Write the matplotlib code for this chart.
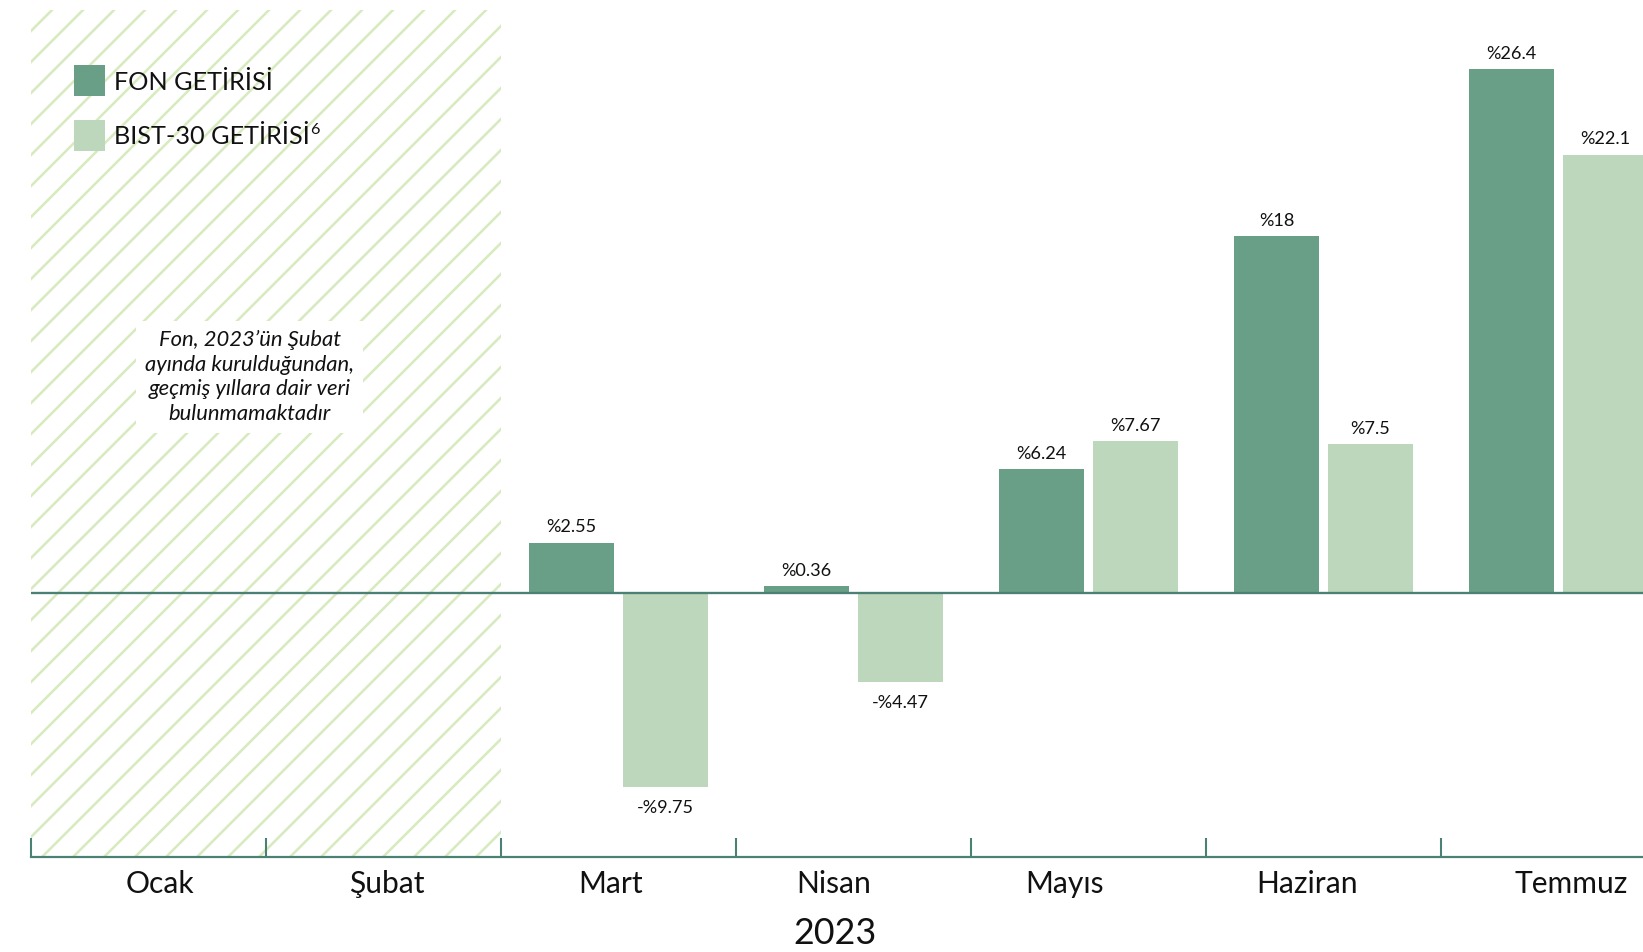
import matplotlib
matplotlib.use("Agg")
import matplotlib.pyplot as plt
import matplotlib.transforms as mtransforms
from matplotlib.patches import Rectangle

# ---------------- data ----------------
months = ["Ocak", "Şubat", "Mart", "Nisan", "Mayıs", "Haziran", "Temmuz"]
data_months = ["Mart", "Nisan", "Mayıs", "Haziran", "Temmuz"]
fon_getirisi = [2.55, 0.36, 6.24, 18, 26.4]
bist30_getirisi = [-9.75, -4.47, 7.67, 7.5, 22.1]
year_label = "2023"
legend_labels = ["FON GETİRİSİ", "BIST-30 GETİRİSİ"]
legend_sup = ["", "6"]
note_text = "Fon, 2023’ün Şubat\nayında kurulduğundan,\ngeçmiş yıllara dair veri\nbulunmamaktadır"
no_data_months = ["Ocak", "Şubat"]

# ---------------- style / layout ----------------
DPI = 186
W, H = 1643, 952
dark = "#6a9f87"
light = "#bdd7bc"
hatch_col = "#d8eac0"
axis_col = "#4b8175"
txt_col = "#111111"
bar_w = 0.362
offset = 0.2
# horizontal shift of each month label (pixels) as seen in the reference
label_dx_px = [11.5, 3.5, -7.5, -19.5, -24.5, -16.5, 12.5]

plt.rcParams["font.family"] = ["Lato", "DejaVu Sans"]
plt.rcParams["hatch.linewidth"] = 1.0

fig = plt.figure(figsize=(W / DPI, H / DPI), dpi=DPI)
ax_left = 31 / W
ax_bottom = 1 - 856.7 / H
ax_top = 1 - 10 / H
ax = fig.add_axes([ax_left, ax_bottom, 1 - ax_left, ax_top - ax_bottom])

cat_px = 235.0
px_per_unit = 19.85
zero_px = 593.3
xmax = -0.5 + (W - 31) / cat_px
ymin = (zero_px - 856.7) / px_per_unit
ymax = (zero_px - 10) / px_per_unit
ax.set_xlim(-0.5, xmax)
ax.set_ylim(ymin, ymax)

idx = {m: i for i, m in enumerate(months)}

# hatched "no data" region
nd = [idx[m] for m in no_data_months]
ax.add_patch(Rectangle((min(nd) - 0.5, ymin), len(nd), ymax - ymin,
                       hatch="//", fill=False, edgecolor=hatch_col, lw=0, zorder=0))

xs = [idx[m] for m in data_months]
b1 = ax.bar([x - offset for x in xs], fon_getirisi, width=bar_w, color=dark, zorder=2)
b2 = ax.bar([x + offset for x in xs], bist30_getirisi, width=bar_w, color=light, zorder=2)

def fmt(v):
    s = f"{abs(v):g}"
    return ("-%" if v < 0 else "%") + s

for bars, vals in ((b1, fon_getirisi), (b2, bist30_getirisi)):
    for rect, v in zip(bars, vals):
        cx = rect.get_x() + rect.get_width() / 2
        dy = 10.5 if v >= 0 else -26.0
        ax.annotate(fmt(v), (cx, v), xytext=(0, dy / DPI * 72), textcoords="offset points",
                    ha="center", va="baseline", fontsize=7.0, color=txt_col, zorder=4)

ax.axhline(0, color=axis_col, lw=0.9, zorder=3)

# note box
ax.text(0.43, 10.9, note_text, ha="center", va="center", fontsize=8.5, style="italic",
        color=txt_col, linespacing=1.3, zorder=5,
        bbox=dict(boxstyle="square,pad=0.4", fc="white", ec="none"))

# axes styling
for s in ("top", "right", "left"):
    ax.spines[s].set_visible(False)
ax.spines["bottom"].set_color(axis_col)
ax.spines["bottom"].set_linewidth(0.85)
ax.set_yticks([])
ax.set_xticks([i - 0.5 for i in range(len(months))])
ax.set_xticklabels([])
ax.tick_params(axis="x", direction="in", length=19 / DPI * 72, width=0.8, color=axis_col)

blend = mtransforms.blended_transform_factory(ax.transData, ax.transAxes)
for i, m in enumerate(months):
    tr = blend + mtransforms.ScaledTranslation(label_dx_px[i] / DPI, -36.3 / DPI, fig.dpi_scale_trans)
    ax.text(i, 0, m, transform=tr, ha="center", va="baseline", fontsize=11.6,
            color=txt_col, clip_on=False)
tr = blend + mtransforms.ScaledTranslation(-18.5 / DPI, -87.3 / DPI, fig.dpi_scale_trans)
ax.text(idx["Nisan"], 0, year_label, transform=tr, ha="center", va="baseline",
        fontsize=13.9, color=txt_col, clip_on=False)

# legend (drawn manually in figure pixel space)
def fx(px):
    return px / W

def fy(py):
    return 1 - py / H

leg_colors = [dark, light]
sq_left, sq_size, row_top0, row_step = 74, 31, 65, 55
renderer = fig.canvas.get_renderer()
for k, (lab, sup, col) in enumerate(zip(legend_labels, legend_sup, leg_colors)):
    top = row_top0 + k * row_step
    fig.patches.append(Rectangle((fx(sq_left), fy(top + sq_size)), sq_size / W, sq_size / H,
                                 transform=fig.transFigure, facecolor=col, edgecolor="none"))
    t = fig.text(fx(114), fy(top + 24.5), lab, ha="left", va="baseline", fontsize=9.8,
                 color=txt_col)
    if sup:
        bb = t.get_window_extent(renderer=renderer)
        fig.text((bb.x1 + 0.5) / W, fy(top + 14.5), sup, ha="left", va="baseline",
                 fontsize=6.3, color=txt_col)

fig.savefig("out.png", dpi=DPI, facecolor="white")
